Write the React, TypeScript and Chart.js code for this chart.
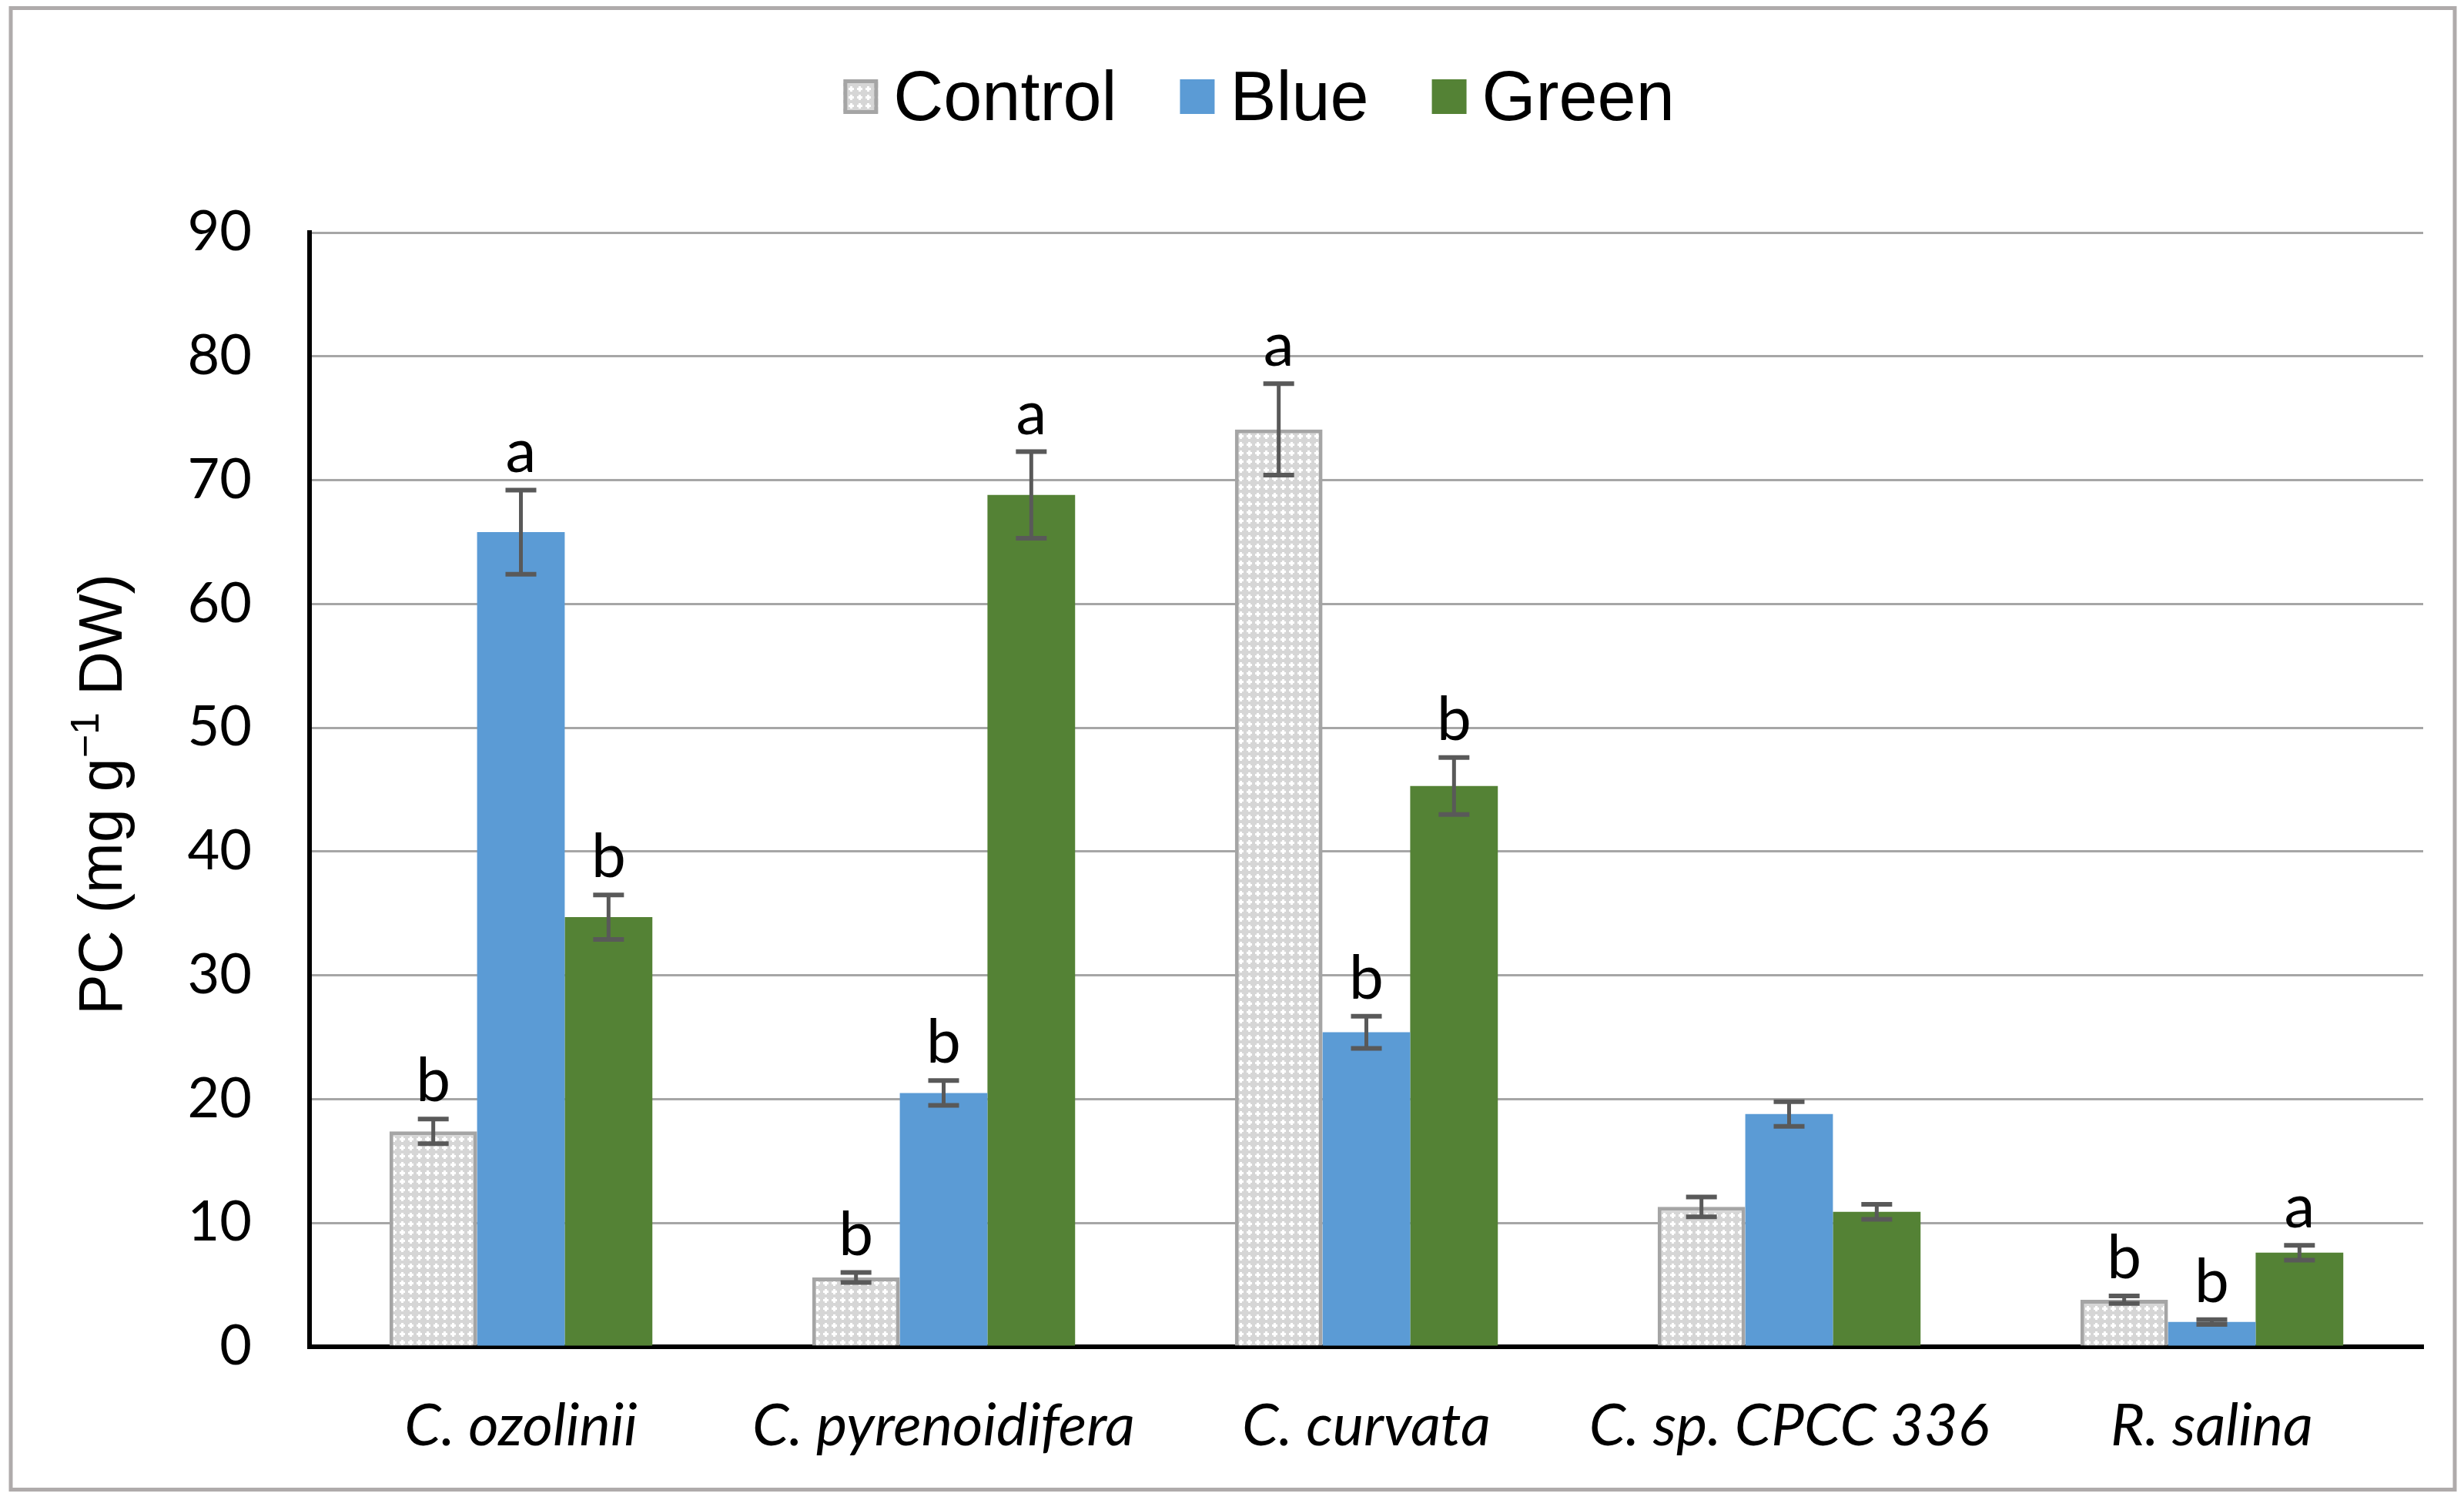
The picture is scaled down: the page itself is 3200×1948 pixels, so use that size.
import React, { useEffect, useRef } from 'react';
import { Chart, registerables } from 'chart.js';

Chart.register(...registerables);

const categories = ['C. ozolinii', 'C. pyrenoidifera', 'C. curvata', 'C. sp. CPCC 336', 'R. salina'];
const seriesNames = ['Control', 'Blue', 'Green'];
const controlValues = [17.4, 5.6, 74.1, 11.3, 3.8];
const controlErrors = [1.0, 0.4, 3.7, 0.8, 0.3];
const blueValues = [65.8, 20.5, 25.4, 18.8, 2.0];
const blueErrors = [3.4, 1.0, 1.3, 1.0, 0.2];
const greenValues = [34.7, 68.8, 45.3, 10.9, 7.6];
const greenErrors = [1.8, 3.5, 2.3, 0.6, 0.6];
const controlLetters = ['b', 'b', 'a', '', 'b'];
const blueLetters = ['a', 'b', 'b', '', 'b'];
const greenLetters = ['b', 'a', 'b', '', 'a'];
const yMin = 0;
const yMax = 90;
const yStep = 10;
const yTitleMain = 'PC (mg g';
const yTitleSup = '\u22121';
const yTitleEnd = ' DW)';

const W = 3200;
const H = 1948;
const BLUE = '#5B9BD5';
const GREEN = '#548235';
const CONTROL_BORDER = '#A5A5A5';
const ERR = '#595959';

function makePattern(ctx: CanvasRenderingContext2D): CanvasPattern | string {
  const c = document.createElement('canvas');
  c.width = 11;
  c.height = 11;
  const g = c.getContext('2d');
  if (!g) return '#E4E4E4';
  g.fillStyle = '#D6D6D6';
  g.fillRect(0, 0, 11, 11);
  g.fillStyle = '#FFFFFF';
  g.fillRect(2, 4, 7, 3);
  g.fillRect(4, 2, 3, 7);
  const p = ctx.createPattern(c, 'repeat');
  return p || '#E4E4E4';
}

export default function App() {
  const ref = useRef<HTMLCanvasElement | null>(null);

  useEffect(() => {
    const canvas = ref.current;
    if (!canvas) return;
    const ctx = canvas.getContext('2d');
    if (!ctx) return;
    const pattern = makePattern(ctx);
    const errors = [controlErrors, blueErrors, greenErrors];
    const letters = [controlLetters, blueLetters, greenLetters];
    const swatchFills: any[] = [pattern, BLUE, GREEN];

    const custom = {
      id: 'custom',
      beforeDraw(chart: any) {
        const c = chart.ctx;
        c.save();
        c.fillStyle = '#FFFFFF';
        c.fillRect(0, 0, W, H);
        c.restore();
      },
      afterDatasetsDraw(chart: any) {
        const c = chart.ctx;
        const ys = chart.scales.y;
        c.save();
        chart.data.datasets.forEach((ds: any, i: number) => {
          const meta = chart.getDatasetMeta(i);
          meta.data.forEach((bar: any, j: number) => {
            const v = ds.data[j];
            const e = errors[i][j];
            const x = bar.x;
            const yt = ys.getPixelForValue(v + e);
            const yb = ys.getPixelForValue(v - e);
            c.strokeStyle = ERR;
            c.lineWidth = 5;
            c.beginPath();
            c.moveTo(x, yt);
            c.lineTo(x, yb);
            c.stroke();
            c.lineWidth = 6;
            c.beginPath();
            c.moveTo(x - 20, yt);
            c.lineTo(x + 20, yt);
            c.moveTo(x - 20, yb);
            c.lineTo(x + 20, yb);
            c.stroke();
            const l = letters[i][j];
            if (l) {
              c.fillStyle = '#000000';
              c.font = '80px Lato';
              c.textAlign = 'center';
              c.textBaseline = 'alphabetic';
              c.fillText(l, x, yt - 23);
            }
          });
        });
        c.restore();
      },
      afterDraw(chart: any) {
        const c = chart.ctx;
        const area = chart.chartArea;
        c.save();
        // outer frame
        c.strokeStyle = '#AFABAB';
        c.lineWidth = 5;
        c.strokeRect(14, 10.5, 3174, 1924);

        // legend
        c.font = '90px "Liberation Sans", Arial, sans-serif';
        c.textBaseline = 'alphabetic';
        c.textAlign = 'left';
        const box = 45;
        const gapText = 20;
        const gapItem = 82;
        const widths = seriesNames.map((n) => c.measureText(n).width);
        let total = 0;
        widths.forEach((w, i) => {
          total += box + gapText + w + (i < widths.length - 1 ? gapItem : 0);
        });
        let x = 1635 - total / 2;
        const boxTop = 103;
        seriesNames.forEach((n, i) => {
          c.fillStyle = swatchFills[i];
          c.fillRect(x, boxTop, box, box);
          if (i === 0) {
            c.strokeStyle = CONTROL_BORDER;
            c.lineWidth = 5;
            c.strokeRect(x + 2.5, boxTop + 2.5, box - 5, box - 5);
          }
          c.fillStyle = '#000000';
          c.fillText(n, x + box + gapText, 156);
          x += box + gapText + widths[i] + gapItem;
        });

        // y axis title with superscript
        const cy = (area.top + area.bottom) / 2 + 6;
        c.translate(158, cy);
        c.rotate(-Math.PI / 2);
        const mainFont = '79px "Liberation Sans", Arial, sans-serif';
        const supFont = '52px "Liberation Sans", Arial, sans-serif';
        c.font = mainFont;
        const w1 = c.measureText(yTitleMain).width;
        const w3 = c.measureText(yTitleEnd).width;
        c.font = supFont;
        const w2 = c.measureText(yTitleSup).width;
        const tw = w1 + w2 + w3;
        let tx = -tw / 2;
        c.fillStyle = '#000000';
        c.font = mainFont;
        c.fillText(yTitleMain, tx, 0);
        tx += w1;
        c.font = supFont;
        c.fillText(yTitleSup, tx, -30);
        tx += w2;
        c.font = mainFont;
        c.fillText(yTitleEnd, tx, 0);
        c.restore();
      },
    };

    const chart = new Chart(canvas, {
      type: 'bar',
      data: {
        labels: categories,
        datasets: [
          {
            label: seriesNames[0],
            data: controlValues,
            backgroundColor: pattern as any,
            borderColor: CONTROL_BORDER,
            borderWidth: 5,
            borderSkipped: 'bottom',
          },
          {
            label: seriesNames[1],
            data: blueValues,
            backgroundColor: BLUE,
            borderWidth: 0,
          },
          {
            label: seriesNames[2],
            data: greenValues,
            backgroundColor: GREEN,
            borderWidth: 0,
          },
        ],
      },
      options: {
        animation: false,
        responsive: false,
        devicePixelRatio: 1,
        events: [],
        layout: { padding: { top: 302, right: 53, left: 0, bottom: 0 } },
        datasets: { bar: { categoryPercentage: 0.622, barPercentage: 1 } },
        plugins: {
          legend: { display: false },
          tooltip: { enabled: false },
          title: { display: false },
        },
        scales: {
          x: {
            grid: { display: false, drawTicks: false },
            border: { display: true, color: '#000000', width: 6 },
            ticks: {
              color: '#000000',
              font: { family: 'Lato', style: 'italic', size: 76 },
              padding: 58,
              maxRotation: 0,
              autoSkip: false,
            },
            afterFit: (s: any) => {
              s.height = 199;
            },
          },
          y: {
            min: yMin,
            max: yMax,
            grid: { color: '#A6A6A6', lineWidth: 3, drawTicks: false },
            border: { display: true, color: '#000000', width: 6 },
            ticks: {
              stepSize: yStep,
              color: '#000000',
              font: { family: 'Lato', size: 72 },
              padding: 75,
            },
            afterFit: (s: any) => {
              s.width = 402;
            },
          },
        },
      },
      plugins: [custom],
    });

    return () => {
      chart.destroy();
    };
  }, []);

  return (
    <div style={{ position: 'fixed', left: 0, top: 0, width: W, height: H, background: '#FFFFFF' }}>
      <canvas ref={ref} width={W} height={H} style={{ display: 'block', width: W, height: H }} />
    </div>
  );
}
